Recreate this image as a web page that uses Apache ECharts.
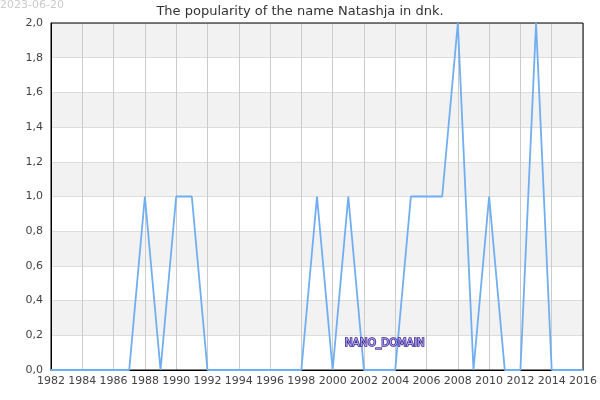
<!DOCTYPE html>
<html>
<head>
<meta charset="utf-8">
<script src="https://cdn.jsdelivr.net/npm/echarts@6/dist/echarts.min.js"></script>
<style>
  html, body { margin: 0; padding: 0; background: #fff; }
  #chart { width: 600px; height: 400px; }
</style>
</head>
<body>
<div id="chart"></div>
<script>
// years and counts
const years = [1982, 1983, 1984, 1985, 1986, 1987, 1988, 1989, 1990, 1991, 1992, 1993, 1994, 1995, 1996, 1997, 1998, 1999, 2000, 2001, 2002, 2003, 2004, 2005, 2006, 2007, 2008, 2009, 2010, 2011, 2012, 2013, 2014, 2015, 2016]
const counts = [0, 0, 0, 0, 0, 0, 1, 0, 1, 1, 0, 0, 0, 0, 0, 0, 0, 1, 0, 1, 0, 0, 0, 1, 1, 1, 2, 0, 1, 0, 0, 2, 0, 0, 0]
const titleText = 'The popularity of the name Natashja in dnk.'
const dateText = '2023-06-20'
const watermark = 'Names of the World © 2023'

const font = 'DejaVu Sans'
let points = years.map((y, i) => [y, counts[i]])

let myChart = echarts.init(document.getElementById('chart'))
let option = {
  animation: false,
  textStyle: { fontFamily: font },
  title: {
    text: titleText,
    left: 'center',
    top: 0,
    textStyle: { fontFamily: font, fontSize: 13, fontWeight: 'normal', color: '#333' }
  },
  grid: { left: 51, right: 15, top: 23, bottom: 30, show: true, borderColor: '#000', borderWidth: 1, backgroundColor: 'transparent', z: 3 },
  xAxis: {
    type: 'value',
    min: 1982,
    max: 2016,
    interval: 2,
    axisLine: { show: true, lineStyle: { color: '#000', width: 1 } },
    axisTick: { show: false },
    axisLabel: {
      color: '#444', fontSize: 11, fontFamily: font, margin: 6,
      showMinLabel: true, showMaxLabel: true,
      formatter: v => String(v)
    },
    splitLine: { show: true, lineStyle: { color: '#ccc', width: 1 } }
  },
  yAxis: {
    type: 'value',
    min: 0,
    max: 2,
    interval: 0.2,
    axisLine: { show: true, lineStyle: { color: '#000', width: 1 } },
    axisTick: { show: false },
    axisLabel: {
      color: '#444', fontSize: 11, fontFamily: font, margin: 8,
      formatter: v => v.toFixed(1).replace('.', ',')
    },
    splitLine: { show: true, lineStyle: { color: '#ddd', width: 1 } },
    splitArea: { show: true, areaStyle: { color: ['#ffffff', '#f2f2f2'] } }
  },
  graphic: [
    { type: 'text', left: 0, top: 0, style: { text: dateText, fontFamily: font, fontSize: 11, fill: '#ccc' } },
    { type: 'text', left: 90, top: 42, style: { text: watermark, fontFamily: font, fontSize: 11, fill: '#e8e6f6' } },
    { type: 'text', left: 283, top: 156, style: { text: watermark, fontFamily: font, fontSize: 11, fill: '#e8e6f6' } },
    { type: 'text', left: 138, top: 211, style: { text: watermark, fontFamily: font, fontSize: 11, fill: '#e8e6f6' } },
    { type: 'text', left: 344, top: 337, z: 100, style: { text: 'NANO_DOMAIN', fontFamily: font, fontSize: 10.5, fill: '#b4a8ec', stroke: '#3a2590', lineWidth: 1.5 } }
  ],
  series: [
    {
      type: 'line',
      data: points,
      symbol: 'none',
      z: 5,
      lineStyle: { color: '#70aef2', width: 1.8 }
    }
  ]
}
myChart.setOption(option)
</script>
</body>
</html>
